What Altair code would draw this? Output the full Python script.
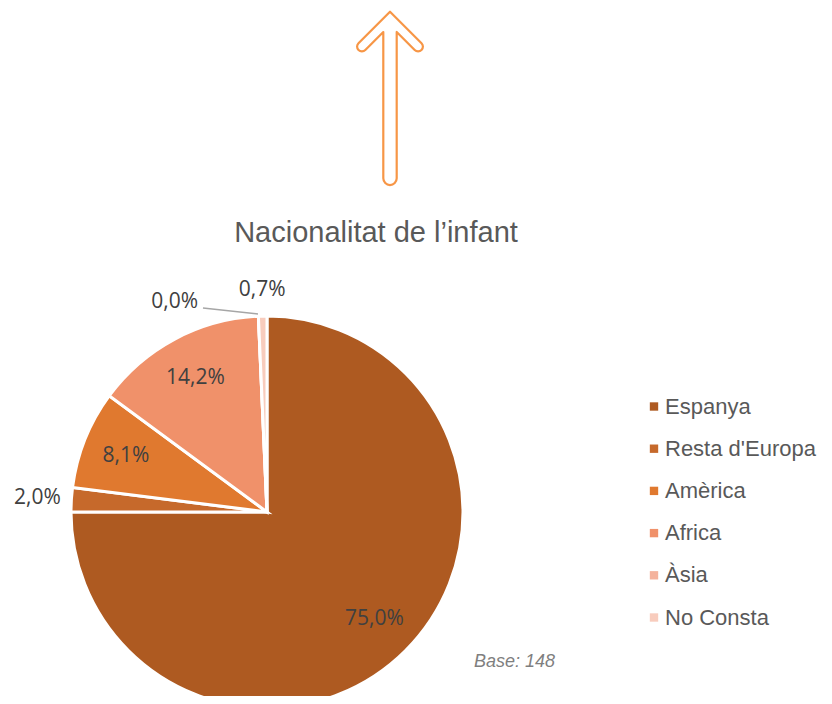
import altair as alt
import pandas as pd

categories = ["Espanya", "Resta d'Europa", "Amèrica", "Africa", "Àsia", "No Consta"]
values = [75.0, 2.0, 8.1, 14.2, 0.0, 0.7]
labels = ["75,0%", "2,0%", "8,1%", "14,2%", "0,0%", "0,7%"]
colors = ["#AE5A21", "#C6692B", "#E0792F", "#F0916A", "#F4B29C", "#F8CCBD"]
title_text = "Nacionalitat de l’infant"
base_text = "Base: 148"

df = pd.DataFrame({"cat": categories, "value": values, "label": labels,
                   "order": list(range(len(categories)))})

CX, CY, R = 259, 504, 196

base = alt.Chart(df).encode(
    theta=alt.Theta("value:Q", stack=True),
    order=alt.Order("order:Q"),
    x=alt.value(CX),
    y=alt.value(CY),
)

arcs = base.mark_arc(radius=R, stroke="white", strokeWidth=3).encode(
    color=alt.Color(
        "cat:N",
        scale=alt.Scale(domain=categories, range=colors),
        sort=categories,
        legend=alt.Legend(
            title=None, orient="none", legendX=635, legendY=387.5,
            symbolType="square", symbolSize=70, symbolStrokeWidth=0,
            labelFont="Liberation Sans", labelFontSize=22, labelColor="#595959",
            rowPadding=20.2, labelOffset=0, padding=0, labelLimit=0,
        ),
    )
)

lbl_font = dict(font="Open Sans", fontSize=21, color="#404040", align="center", baseline="middle")

inner = base.mark_text(radius=152, **lbl_font).encode(
    text=alt.condition("datum.value >= 5", "label:N", alt.value(""))
)
resta_lbl = base.mark_text(radius=230, **lbl_font).encode(
    text=alt.condition("datum.cat == \"Resta d'Europa\"", "label:N", alt.value(""))
)
noc_lbl = base.mark_text(radius=222, **lbl_font).encode(
    text=alt.condition("datum.cat == 'No Consta'", "label:N", alt.value(""))
)
asia_lbl = base.mark_text(radius=210, dx=-83, **lbl_font).encode(
    text=alt.condition("datum.cat == 'Àsia'", "label:N", alt.value(""))
)

one = pd.DataFrame({"t": [title_text], "b": [base_text]})

leader = alt.Chart(one).mark_rule(color="#A6A6A6", strokeWidth=1.5).encode(
    x=alt.value(195), y=alt.value(300), x2=alt.value(250), y2=alt.value(306)
)

title = alt.Chart(one).mark_text(
    font="Liberation Sans", fontSize=29, color="#595959", align="center", baseline="alphabetic"
).encode(text="t:N", x=alt.value(368), y=alt.value(234))

base_note = alt.Chart(one).mark_text(
    font="Liberation Sans", fontSize=18, fontStyle="italic", color="#7F7F7F",
    align="left", baseline="alphabetic"
).encode(text="b:N", x=alt.value(466), y=alt.value(659))

arrow_path = (
    "M0,-1 L0.3635,-0.6365 A0.0555,0.0555 0 0 1 0.285,-0.558 "
    "L0.0773,-0.7657 L0.0773,0.923 A0.0773,0.0773 0 0 1 -0.0773,0.923 "
    "L-0.0773,-0.7657 L-0.285,-0.558 A0.0555,0.0555 0 0 1 -0.3635,-0.6365 Z"
)
arrow = alt.Chart(one).mark_point(
    shape=arrow_path, size=30033, filled=False, stroke="#F79646",
    strokeWidth=2.2, strokeJoin="round", opacity=1,
).encode(x=alt.value(382), y=alt.value(90.35))

chart = alt.layer(
    arcs, inner, resta_lbl, noc_lbl, asia_lbl, leader, title, base_note, arrow
).properties(
    width=816, height=688, padding=0,
    autosize=alt.AutoSizeParams(type="none"),
).configure_view(stroke=None)

chart.save("out.html", embed_options={"renderer": "svg", "actions": False})
